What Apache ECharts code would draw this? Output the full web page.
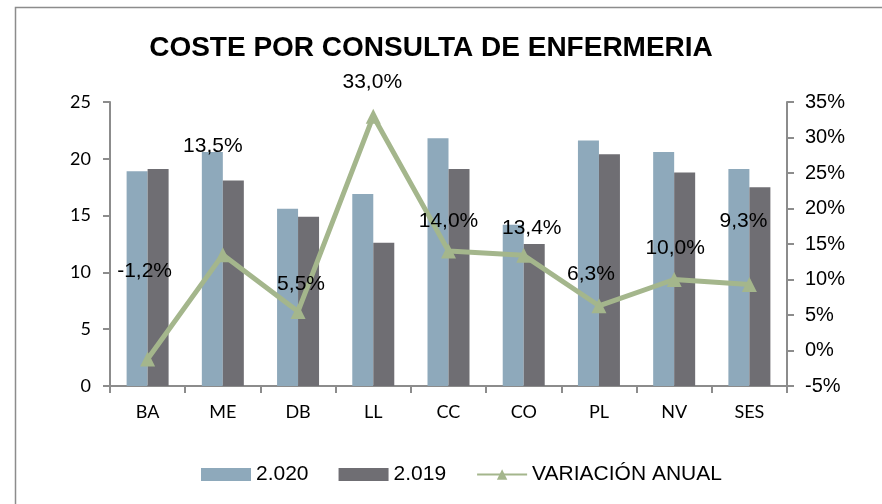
<!DOCTYPE html>
<html>
<head>
<meta charset="utf-8">
<script src="https://cdn.jsdelivr.net/npm/echarts@6/dist/echarts.min.js"></script>
<style>
  html, body { margin: 0; padding: 0; background: #fff; overflow: hidden; }
  #main { width: 882px; height: 504px; }
</style>
</head>
<body>
<div id="main"></div>
<script>
// datos
var categorias = ['BA', 'ME', 'DB', 'LL', 'CC', 'CO', 'PL', 'NV', 'SES'];
var coste2020 = [18.9, 20.6, 15.6, 16.9, 21.8, 14.2, 21.6, 20.6, 19.1];
var coste2019 = [19.1, 18.1, 14.9, 12.6, 19.1, 12.5, 20.4, 18.8, 17.5];
var variacion = [-1.2, 13.5, 5.5, 33.0, 14.0, 13.4, 6.3, 10.0, 9.3];
// desplazamiento de las etiquetas (como en el excel)
var etiquetaOffset = [[-3, -88], [-10, -108], [3, -27], [-1, -34], [0, -30], [8, -27], [-8, -32], [1, -31], [-6, -63]];

var chart = echarts.init(document.getElementById('main'));

var option = {
    animation: false,
    title: {
        text: 'COSTE POR CONSULTA DE ENFERMERIA',
        left: 426,
        top: 29,
        textAlign: 'center',
        textStyle: {
            fontFamily: 'Liberation Sans',
            fontWeight: 'bold',
            fontSize: 28,
            color: '#000'
        }
    },
    graphic: [{
        type: 'polyline',
        shape: { points: [[15.5, 504], [15.5, 7.5], [882, 7.5]] },
        style: { fill: null, stroke: '#8c8c8c', lineWidth: 1.5 },
        silent: true
    }],
    legend: {
        top: 459,
        left: 196,
        itemGap: 30,
        itemWidth: 50,
        itemHeight: 13,
        textStyle: { fontFamily: 'Liberation Sans', fontSize: 21, color: '#000' },
        data: [
            { name: '2.020', icon: 'rect' },
            { name: '2.019', icon: 'rect' },
            { name: 'VARIACIÓN ANUAL' }
        ]
    },
    grid: {
        left: 110,
        right: 95,
        top: 102,
        bottom: 118
    },
    xAxis: {
        type: 'category',
        data: categorias,
        axisLine: { lineStyle: { color: '#8c8c8c', width: 2 } },
        axisTick: { show: true, length: 7, lineStyle: { color: '#8c8c8c', width: 2 } },
        axisLabel: { fontFamily: 'Lato', fontSize: 18, color: '#000', margin: 17 }
    },
    yAxis: [
        {
            type: 'value',
            min: 0,
            max: 25,
            interval: 5,
            splitLine: { show: false },
            axisLine: { show: true, lineStyle: { color: '#8c8c8c', width: 2 } },
            axisTick: { show: true, length: 7, lineStyle: { color: '#8c8c8c', width: 2 } },
            axisLabel: { fontFamily: 'Lato', fontSize: 18, color: '#000', margin: 19 }
        },
        {
            type: 'value',
            min: -5,
            max: 35,
            interval: 5,
            position: 'right',
            splitLine: { show: false },
            axisLine: { show: true, lineStyle: { color: '#8c8c8c', width: 2 } },
            axisTick: { show: true, length: 7, lineStyle: { color: '#8c8c8c', width: 2 } },
            axisLabel: {
                fontFamily: 'Liberation Sans', fontSize: 20, color: '#000', margin: 18,
                formatter: function (v) { return v + '%'; }
            }
        }
    ],
    series: [
        {
            name: '2.020',
            type: 'bar',
            barWidth: 21,
            barGap: '0%',
            itemStyle: { color: '#8ea9bb' },
            data: coste2020
        },
        {
            name: '2.019',
            type: 'bar',
            barWidth: 21,
            itemStyle: { color: '#6f6e73' },
            data: coste2019
        },
        {
            name: 'VARIACIÓN ANUAL',
            type: 'line',
            yAxisIndex: 1,
            symbol: 'triangle',
            symbolSize: 15,
            lineStyle: { color: '#a4b68c', width: 5 },
            itemStyle: { color: '#a4b68c' },
            z: 5,
            data: variacion.map(function (v, i) {
                return {
                    value: v,
                    label: {
                        show: true,
                        position: 'inside',
                        offset: etiquetaOffset[i],
                        fontFamily: 'Liberation Sans',
                        fontSize: 21,
                        color: '#000',
                        formatter: function (p) { return p.value.toFixed(1).replace('.', ',') + '%'; }
                    }
                };
            })
        }
    ]
};
chart.setOption(option);
</script>
</body>
</html>
